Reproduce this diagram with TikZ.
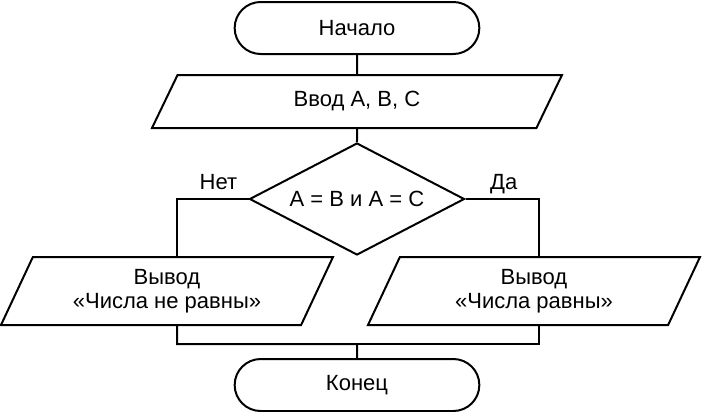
\documentclass[tikz,border=0pt]{standalone}
\usepackage{fontspec}
\setmainfont{Liberation Sans}
\usetikzlibrary{positioning,shapes.geometric,shapes.misc,calc}

\begin{document}
\begin{tikzpicture}[
  font=\fontsize{11}{12}\selectfont,
  line width=1pt,
  term/.style={draw, rounded rectangle, minimum width=129pt, minimum height=26pt},
  io/.style 2 args={draw, trapezium, trapezium left angle=#1, trapezium right angle=#2,
    trapezium stretches body, align=center},
  inbox/.style={io={52.3}{127.7}, minimum width=205pt, minimum height=26.5pt},
  outbox/.style={io={60.8}{119.2}, minimum width=166pt, minimum height=34pt},
  cond/.style={draw, diamond, aspect=1.92, minimum width=107.5pt, minimum height=56pt, inner sep=1pt},
  lbl/.style={above=1pt, text depth=0pt}
]
\useasboundingbox (0,0) rectangle (351pt,-206pt);

\node[term] (start) at (178.5pt,-14pt) {Начало};
\node[inbox, below=9.5pt of start] (input) {Ввод А, В, С};
\node[cond, below=6.5pt of input] (dia) {А = В и А = С};
\node[outbox, below=0pt of dia.south, xshift=-95pt] (outL) {Вывод\\«Числа не равны»};
\node[outbox, below=0pt of dia.south, xshift=88.5pt] (outR) {Вывод\\«Числа равны»};
\node[term, below=51pt of dia] (fin) {Конец};
\coordinate[above=7pt of fin] (join);

\draw (start) -- (input);
\draw (input) -- (dia);
\draw (dia.west) -| node[lbl, pos=0.21] {Нет} ([xshift=5pt]outL.north);
\draw (dia.east) -| node[lbl, pos=0.26] {Да} ([xshift=2.5pt]outR.north);
\draw ([xshift=5pt]outL.south) |- (join) -- (fin);
\draw ([xshift=2.5pt]outR.south) |- (join);

\end{tikzpicture}
\end{document}
